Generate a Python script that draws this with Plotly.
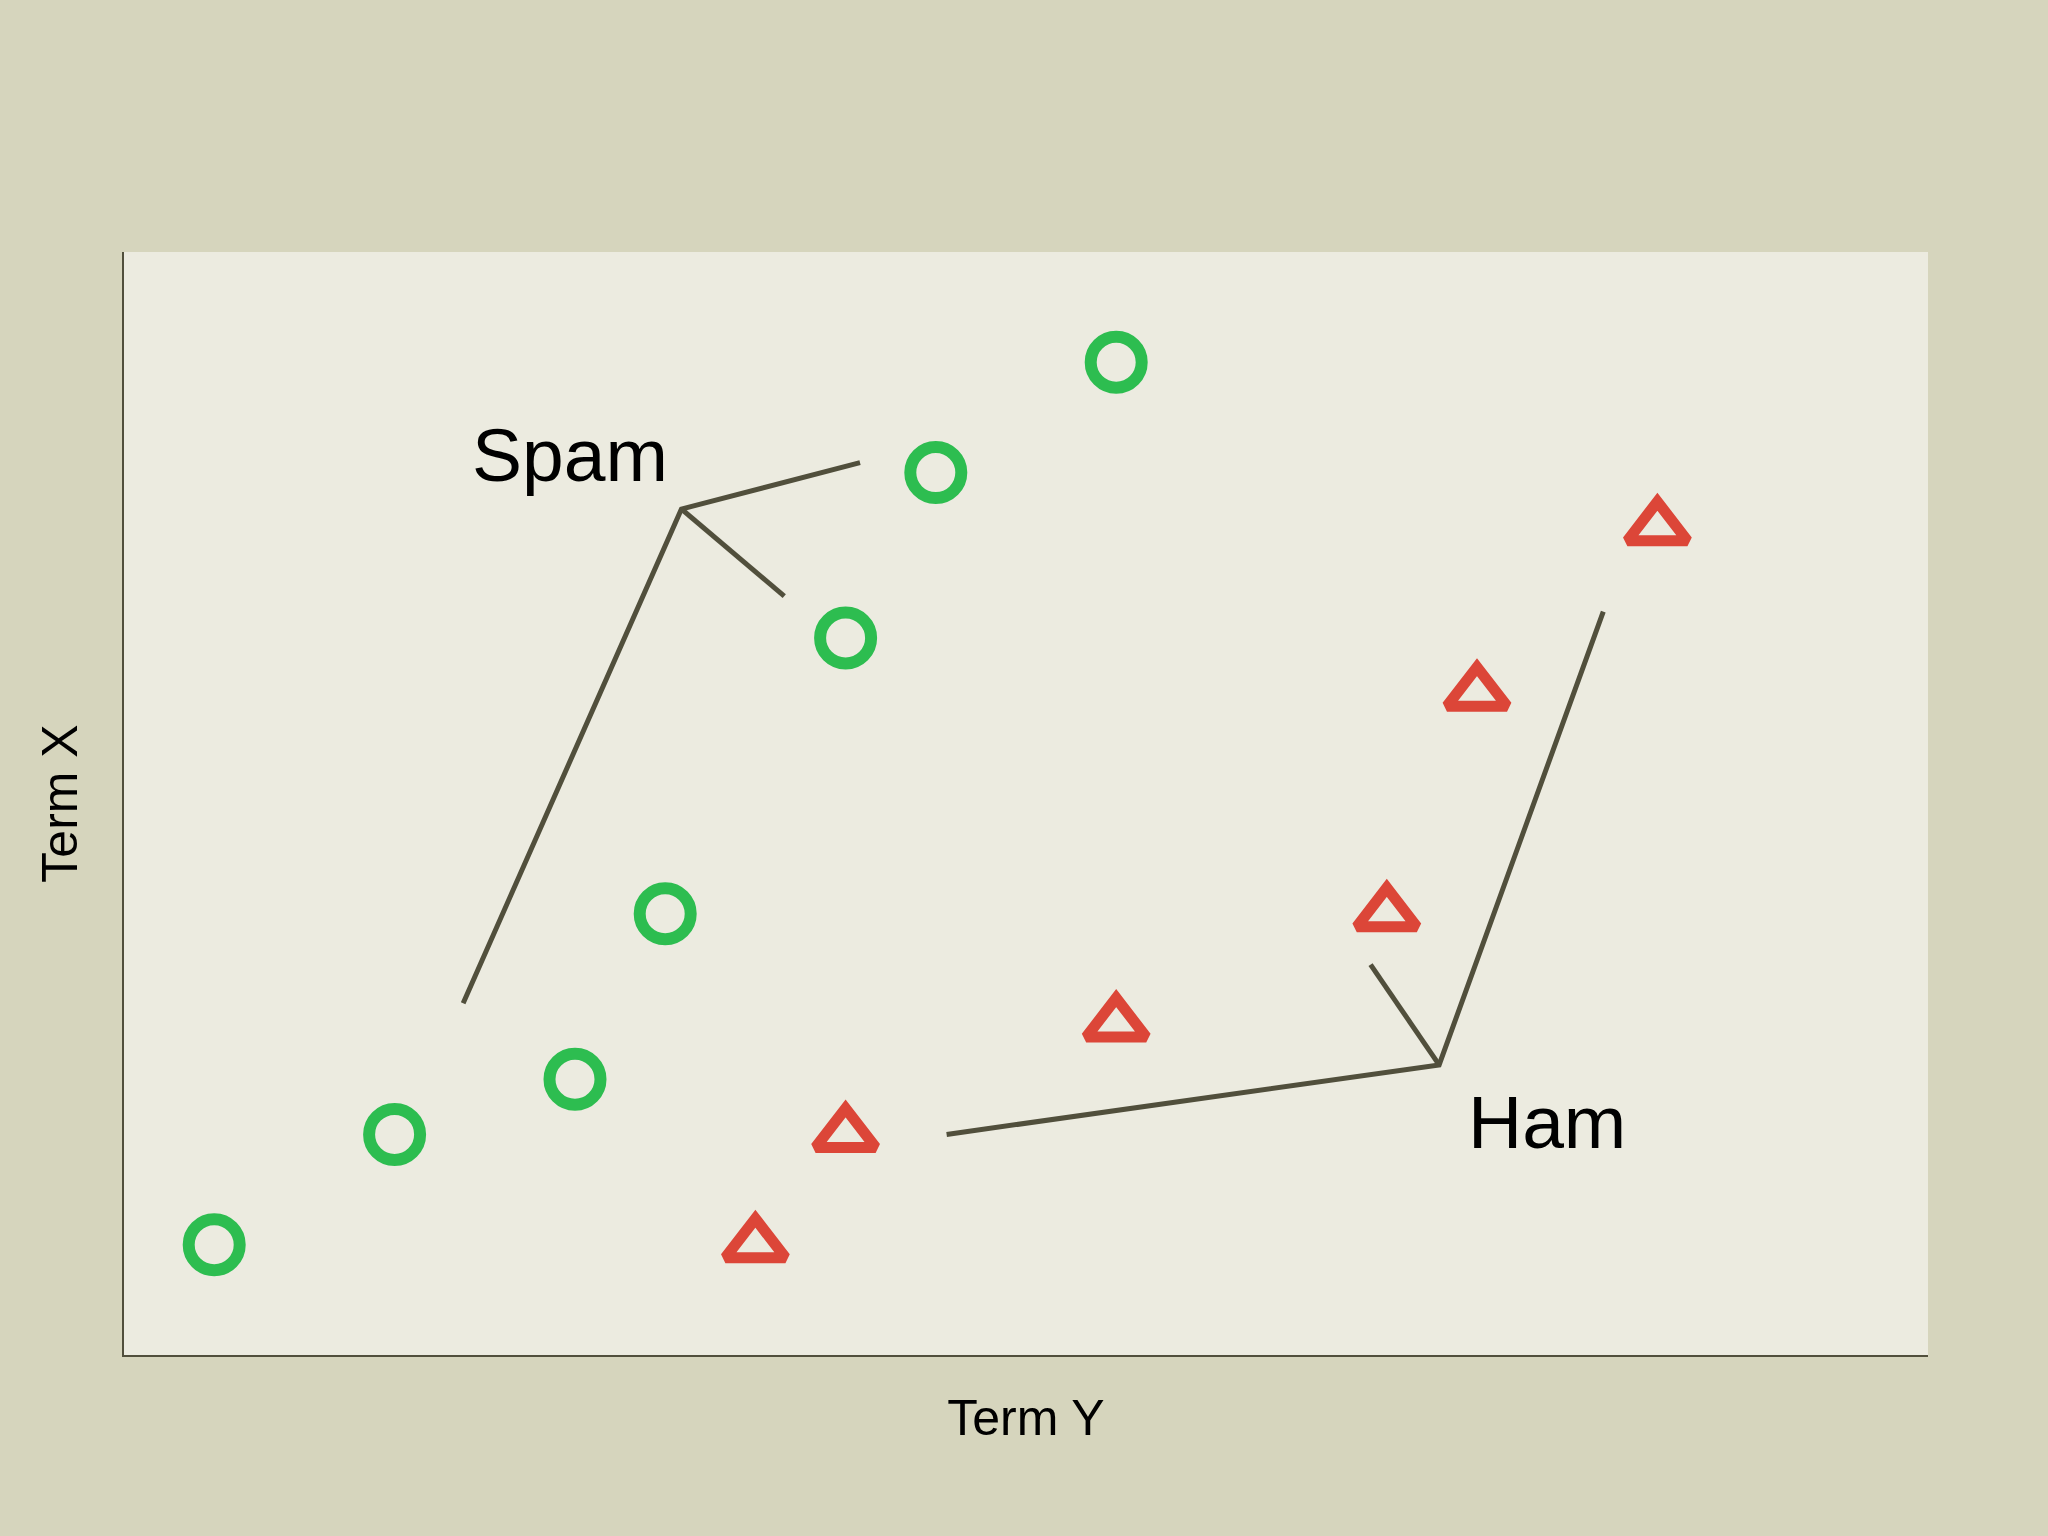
import plotly.graph_objects as go

# ---- data ----
spam_x = [55, 45, 40, 30, 25, 15, 5]
spam_y = [90, 80, 65, 40, 25, 20, 10]

ham_x = [85, 75, 70, 55, 40, 35]
ham_y = [75, 60, 40, 30, 20, 10]

# direction vectors drawn as polylines: start -> corner -> end, plus corner -> short branch
spam_vec_x = [18.8, 30.9, 40.8]
spam_vec_y = [31.9, 76.7, 80.9]
spam_branch_x = [30.9, 36.6]
spam_branch_y = [76.7, 68.8]

ham_vec_x = [45.6, 72.9, 82.0]
ham_vec_y = [20.0, 26.3, 67.4]
ham_branch_x = [72.9, 69.1]
ham_branch_y = [26.3, 35.4]

labels = ["Spam", "Ham"]
label_x = [24.75, 78.9]
label_y = [81.6, 21.1]

x_title = "Term Y"
y_title = "Term X"

# ---- styles ----
GREEN = "#2dbd50"
RED = "#dc4638"
LINE = "#514f3c"
FONT = "Liberation Sans, Arial, Helvetica, sans-serif"

fig = go.Figure()

for xs, ys in [(spam_vec_x, spam_vec_y), (spam_branch_x, spam_branch_y),
               (ham_vec_x, ham_vec_y), (ham_branch_x, ham_branch_y)]:
    fig.add_trace(go.Scatter(x=xs, y=ys, mode="lines",
                             line=dict(color=LINE, width=5),
                             hoverinfo="skip", showlegend=False))

fig.add_trace(go.Scatter(
    x=spam_x, y=spam_y, mode="markers", name="Spam",
    marker=dict(symbol="circle-open", size=51, color=GREEN,
                line=dict(color=GREEN, width=12)),
    showlegend=False))

fig.add_trace(go.Scatter(
    x=ham_x, y=ham_y, mode="markers", name="Ham",
    marker=dict(symbol="triangle-up-open", size=52, color=RED,
                line=dict(color=RED, width=11)),
    showlegend=False))

for t, lx, ly in zip(labels, label_x, label_y):
    fig.add_annotation(x=lx, y=ly, text=t, showarrow=False,
                       xanchor="center", yanchor="middle",
                       font=dict(family=FONT, size=75, color="#000000"))

fig.update_xaxes(range=[0, 100], showgrid=False, zeroline=False,
                 showticklabels=False, ticks="", showline=True,
                 linecolor=LINE, linewidth=2,
                 title=dict(text=x_title, standoff=44,
                            font=dict(family=FONT, size=50, color="#000000")),
                 automargin=False)
fig.update_yaxes(range=[0, 100], showgrid=False, zeroline=False,
                 showticklabels=False, ticks="", showline=True,
                 linecolor=LINE, linewidth=2,
                 title=dict(text=y_title, standoff=29,
                            font=dict(family=FONT, size=50, color="#000000")),
                 automargin=False)

fig.update_layout(
    width=2048, height=1536,
    margin=dict(l=124, r=120, t=252, b=181, pad=0),
    paper_bgcolor="#d6d5bd",
    plot_bgcolor="#ecebe0",
    font=dict(family=FONT),
    showlegend=False,
)

fig.write_html("out.html",
               config={"displayModeBar": False},
               post_script="document.body.style.margin='0';"
                           "document.body.style.overflow='hidden';"
                           "document.body.style.background='#d6d5bd';")
